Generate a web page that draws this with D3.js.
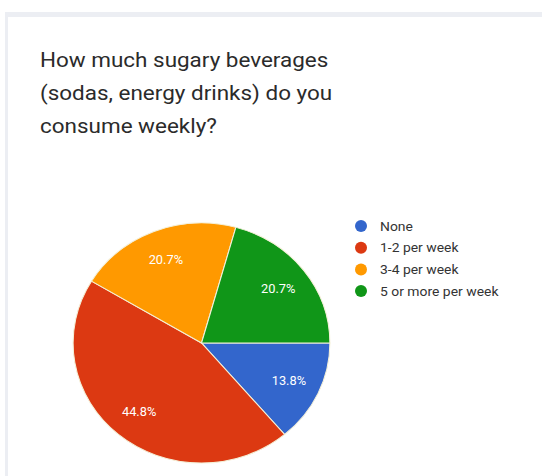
<!DOCTYPE html>
<html>
<head>
<meta charset="utf-8">
<script src="https://cdn.jsdelivr.net/npm/d3@7"></script>
<style>
  html, body { margin: 0; padding: 0; background: #ffffff; }
  svg { display: block; }
</style>
</head>
<body>
<svg id="chart" width="542" height="476"></svg>
<script>
// Survey responses
const titleLines = ["How much sugary beverages", "(sodas, energy drinks) do you", "consume weekly?"];
const categories = ["None", "1-2 per week", "3-4 per week", "5 or more per week"];
const counts = [4, 13, 6, 6];
const colors = ["#3366cc", "#dc3912", "#ff9900", "#109618"];

const W = 542, H = 476;
const sx = 1.07; // horizontal stretch of the whole card
const svg = d3.select("#chart");

// card frame
svg.append("rect").attr("x", 0).attr("y", 0).attr("width", W).attr("height", H).attr("fill", "#ffffff");
svg.append("rect").attr("x", 5).attr("y", 12).attr("width", W).attr("height", 5).attr("fill", "#eceef3");
svg.append("rect").attr("x", 5).attr("y", 12).attr("width", 3).attr("height", H).attr("fill", "#eceef3");
svg.append("rect").attr("x", 8).attr("y", 17).attr("width", W).attr("height", H).attr("fill", "#ffffff");

// title
svg.append("g").attr("transform", `translate(40,0) scale(${sx},1)`)
  .selectAll("text").data(titleLines).join("text")
  .attr("x", 0)
  .attr("y", (d, i) => 67 + i * 33)
  .attr("font-family", "Roboto, 'Open Sans', sans-serif")
  .attr("font-size", 21)
  .attr("fill", "#2b2b2b")
  .text(d => d);

// pie
const cx = 201.5, cy = 343, r = 120;
const total = d3.sum(counts);
const pie = d3.pie().sort(null).startAngle(Math.PI / 2).endAngle(Math.PI / 2 + 2 * Math.PI);
const arcs = pie(counts);
const arc = d3.arc().innerRadius(0).outerRadius(r);
const labelArc = d3.arc().innerRadius(r * 0.75).outerRadius(r * 0.75);

const g = svg.append("g").attr("transform", `translate(${cx},${cy})`);
g.append("g").attr("transform", `scale(${sx},1)`)
  .selectAll("path").data(arcs).join("path")
  .attr("d", arc)
  .attr("fill", (d, i) => colors[i])
  .attr("stroke", "#f4f0d8")
  .attr("stroke-width", 1);

const fmt = v => (v / total * 100).toFixed(1) + "%";
g.append("g").selectAll("text").data(arcs).join("text")
  .attr("transform", d => `translate(${labelArc.centroid(d)[0] * sx},${labelArc.centroid(d)[1]}) scale(${sx},1)`)
  .attr("dy", "0.35em")
  .attr("text-anchor", "middle")
  .attr("font-family", "Roboto, Arial, sans-serif")
  .attr("font-size", 12)
  .attr("fill", "#ffffff")
  .text(d => fmt(d.data));

// legend
const legend = svg.append("g").attr("transform", "translate(361,226)");
const rows = legend.selectAll("g").data(categories).join("g")
  .attr("transform", (d, i) => `translate(0,${i * 21.7})`);
rows.append("circle").attr("r", 6).attr("fill", (d, i) => colors[i]);
rows.append("text")
  .attr("transform", `translate(19,0) scale(${sx},1)`)
  .attr("dy", "0.35em")
  .attr("font-family", "Roboto, Arial, sans-serif")
  .attr("font-size", 13)
  .attr("fill", "#333333")
  .text(d => d);
</script>
</body>
</html>
